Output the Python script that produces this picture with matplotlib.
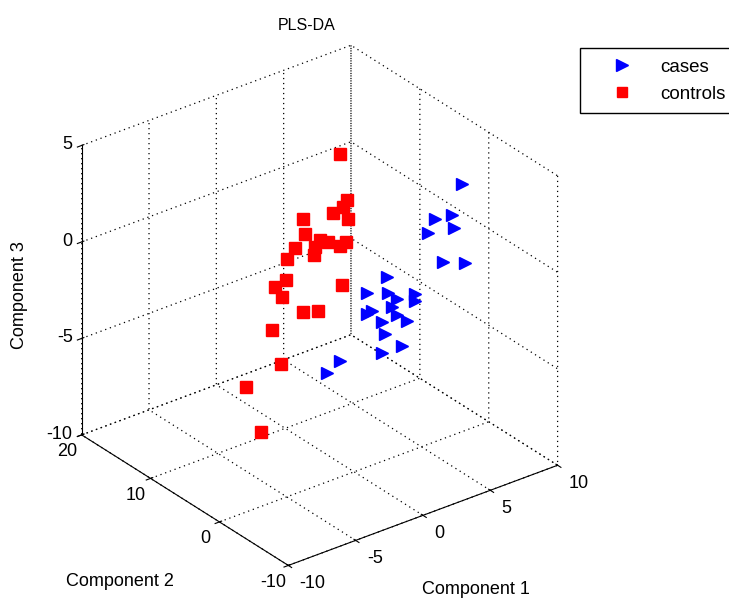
import matplotlib
matplotlib.use("Agg")
import matplotlib.pyplot as plt
from matplotlib.lines import Line2D

plt.rcParams['font.family'] = ['Liberation Sans', 'DejaVu Sans']
plt.rcParams['axes.unicode_minus'] = False
plt.rcParams['grid.linestyle'] = (0, (1, 3))
plt.rcParams['grid.color'] = 'black'
plt.rcParams['grid.linewidth'] = 0.9

# ---- data (PLS-DA scores) ----
cases_c1 = [9.04, 5.47, 7.78, 4.44, 7.41, 8.14, 7.71, 3.44, -0.04, 3.01, 2.64, 6.05,
            4.50, 1.95, -0.18, 3.31, 2.20, 4.94, 1.59, 3.81, 3.53, 1.08, -0.06, -0.51]
cases_c2 = [2, -1, 1, -2, 0, 3, -1, 2, -2, 1, -1, 3,
            0, 2, -3, 1, -2, 2, -1, 3, 0, -2, 2, 3]
cases_c3 = [2.10, 1.93, 1.09, 1.65, 0.73, -1.93, -0.96, -1.26, -0.27, -1.75, -1.52, -3.01,
            -2.34, -2.76, -0.95, -2.56, -2.01, -3.91, -2.40, -4.52, -4.39, -3.65, -4.69, -5.43]

controls_c1 = [3.05, 5.12, 3.78, 4.59, 4.68, -0.23, 1.99, 1.18, 4.73, 4.01, 3.17, 0.72, -0.91,
               0.57, 0.78, -0.77, 2.68, 2.35, 1.41, -0.47, -0.84, -1.91, -2.85, 3.11, 2.53]
controls_c2 = [8, 11, 9, 12, 10, 7, 11, 8, 13, 9, 12, 10, 8,
               11, 13, 9, 7, 12, 8, 11, 9, 12, 8, 11, 7]
controls_c3 = [3.89, 0.30, 0.73, -0.48, -0.36, 1.56, -0.66, -0.45, -2.26, -1.16, -2.31, -0.84, -0.53,
               -2.70, -3.58, -2.79, -2.61, -5.03, -3.81, -5.00, -6.24, -7.79, -8.99, -1.27, -0.52]

xticks = [-10, -5, 0, 5, 10]
yticks = [-10, 0, 10, 20]
zticks = [-10, -5, 0, 5]

FS = 13
W, H = 729, 599
fig = plt.figure(figsize=(W / 100, H / 100), dpi=100)
S = 566
cx, cy = 312, 313
ax = fig.add_axes([(cx - S / 2) / W, (H - cy - S / 2) / H, S / W, S / H],
                  projection='3d', proj_type='ortho')
ax.view_init(elev=29, azim=-127.5)
ax.set_box_aspect((1, 1, 0.975))

ax.plot(cases_c1, cases_c2, cases_c3, linestyle='none', marker='>',
        markersize=9, color=(0, 0, 1), label='cases')
ax.plot(controls_c1, controls_c2, controls_c3, linestyle='none', marker='s',
        markersize=8, color=(1, 0, 0), label='controls')

ax.set_xlim(-10, 10)
ax.set_ylim(-10, 20)
ax.set_zlim(-10, 5)
ax.set_xticks(xticks)
ax.set_yticks(yticks)
ax.set_zticks(zticks)
ax.set_xticklabels([str(v) for v in xticks], ha='left', va='baseline', fontsize=FS)
ax.set_yticklabels([str(v) for v in yticks], ha='center', va='baseline', fontsize=FS)
ax.set_zticklabels([str(v) for v in zticks], ha='right', va='center', fontsize=FS)
ax.zaxis.set_tick_params(pad=-4)

for axis in (ax.xaxis, ax.yaxis, ax.zaxis):
    axis.pane.set_facecolor((1, 1, 1, 0))
    axis.pane.set_edgecolor((1, 1, 1, 0))
    axis._axinfo['grid'].update(color='black', linewidth=0.9, linestyle=(0, (1, 3)))
    axis._axinfo['axisline']['color'] = 'black'
    axis.line.set_color('black')
    axis.set_tick_params(colors='black')

# axis titles placed as in the reference (horizontal, like MATLAB)
fig.text(476 / W, 1 - 589 / H, 'Component 1', ha='center', va='center', fontsize=FS)
fig.text(120 / W, 1 - 581 / H, 'Component 2', ha='center', va='center', fontsize=FS)
fig.text(20 / W, 1 - 295 / H, 'Component 3', ha='center', va='center', fontsize=FS,
         rotation=90)

fig.text(307 / W, 1 - 25 / H, 'PLS-DA', ha='center', va='center', fontsize=11.5)

LFS = 13.5
handles = [Line2D([], [], linestyle='none', marker='>', markersize=8, color=(0, 0, 1)),
           Line2D([], [], linestyle='none', marker='s', markersize=7, color=(1, 0, 0))]
f = LFS * 100 / 72
fig.legend(handles, ['cases', 'controls'], loc='upper left',
           bbox_to_anchor=(580 / W, 1 - 48 / H), fontsize=LFS, frameon=True,
           fancybox=False, edgecolor='black', framealpha=1, borderaxespad=0,
           borderpad=10.5 / f, handlelength=63 / f, handletextpad=6.5 / f,
           labelspacing=10 / f)

fig.savefig('out.png', dpi=100)
